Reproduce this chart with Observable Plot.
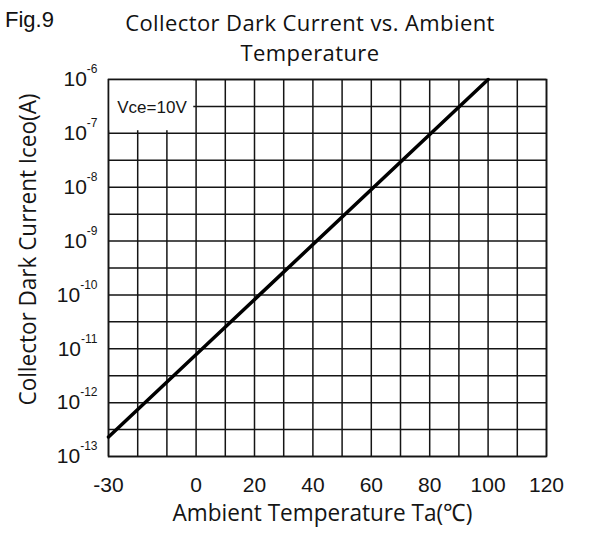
<!DOCTYPE html>
<html>
<head>
<meta charset="utf-8">
<script src="https://cdn.jsdelivr.net/npm/d3@7"></script>
<script src="https://cdn.jsdelivr.net/npm/@observablehq/plot@0.6"></script>
<style>
  html, body { margin: 0; padding: 0; background: #fff; }
  #wrap { width: 592px; height: 541px; position: relative; overflow: hidden; }
  #head { position: relative; height: 60px; }
  #fig { position: absolute; left: 5px; top: 9px; font: 22px "Liberation Sans", Arial, sans-serif; color: #111; line-height: 1; }
  #title { position: absolute; left: 0; top: 7px; width: 620px; text-align: center; font: 22px "Open Sans", sans-serif; letter-spacing: 0.4px; line-height: 30px; color: #111; }
  svg { display: block; }
</style>
</head>
<body>
<div id="wrap">
  <div id="head">
    <div id="fig">Fig.9</div>
    <div id="title">Collector Dark Current vs. Ambient<br>Temperature</div>
  </div>
  <div id="chart"></div>
</div>
<script>
// ---- data ----
const temperature = [-30, 100];                 // Ta (°C)
const iceo = [2.3e-13, 1e-6];                   // Iceo (A)
const xTickValues = [-30, 0, 20, 40, 60, 80, 100, 120];
const xGridValues = [-30, -20, -10, 0, 10, 20, 30, 40, 50, 60, 70, 80, 90, 100, 110, 120];
const yDecadeExponents = [-13, -12, -11, -10, -9, -8, -7, -6];
const yHalfExponents = [-12.5, -11.5, -10.5, -9.5, -8.5, -7.5, -6.5];
const noteText = "Vce=10V";
const xLabel = "Ambient Temperature Ta(℃)";
const yLabel = "Collector Dark Current Iceo(A)";

const curve = temperature.map((t, i) => ({t, i: iceo[i]}));
const yDecades = yDecadeExponents.map(e => Math.pow(10, e));
const yGrid = yDecadeExponents.concat(yHalfExponents).map(e => Math.pow(10, e));
const noteBox = [{x1: -30, x2: -0.8, y1: 1e-6, y2: 1.12e-7}];

const ink = "#151515";
const plot = Plot.plot({
  width: 592,
  height: 481,
  marginTop: 19,
  marginBottom: 85,
  marginLeft: 108,
  marginRight: 46,
  style: {fontFamily: "'Liberation Sans', Arial, sans-serif", background: "#fff", color: ink},
  x: {domain: [-30, 120]},
  y: {type: "log", domain: [1e-13, 1e-6]},
  marks: [
    Plot.ruleX(xGridValues, {stroke: ink, strokeWidth: 1.5}),
    Plot.ruleY(yGrid, {stroke: ink, strokeWidth: 1.5}),
    Plot.rect(noteBox, {x1: "x1", x2: "x2", y1: "y1", y2: "y2", fill: "white"}),
    Plot.text([noteText], {x: -27, y: Math.pow(10, -6.53), text: d => d, textAnchor: "start", fontSize: 17, fill: ink}),
    Plot.frame({stroke: ink, strokeWidth: 1.6}),
    Plot.line(curve, {x: "t", y: "i", stroke: "#000", strokeWidth: 3.5}),
    Plot.axisX({ticks: xTickValues, tickSize: 0, tickPadding: 21, tickFormat: d => String(d), label: null}),
    Plot.axisY({ticks: yDecades, tickSize: 0, tickPadding: 11, tickFormat: d => "10^" + Math.round(Math.log10(d)), label: null}),
    Plot.text([xLabel], {frameAnchor: "bottom", dx: -5, dy: 57.3, text: d => d, textAnchor: "middle", lineAnchor: "middle", fontSize: 24, fontFamily: "'Open Sans', sans-serif", fill: ink}),
    Plot.text([yLabel], {frameAnchor: "left", dx: -80, dy: -18.5, rotate: -90, text: d => d, textAnchor: "middle", lineAnchor: "middle", fontSize: 24, fontFamily: "'Open Sans', sans-serif", fill: ink})
  ]
});
document.getElementById("chart").appendChild(plot);

const svg = d3.select(plot);
// superscript exponents on the y tick labels
svg.selectAll('g[aria-label="y-axis tick label"] text').each(function() {
  const s = d3.select(this);
  const parts = this.textContent.split("^");
  s.text(null);
  s.append("tspan").text(parts[0]);
  s.append("tspan").attr("dy", -13).attr("font-size", "12px").text(parts[1]);
});
svg.selectAll('g[aria-label="x-axis tick label"]').attr("font-size", 21);
svg.selectAll('g[aria-label="y-axis tick label"]').attr("font-size", 21);
// fit the axis titles to the lengths they have in the reference
svg.selectAll("text").each(function() {
  const t = this.textContent;
  if (t === xLabel) d3.select(this).attr("textLength", 300).attr("lengthAdjust", "spacingAndGlyphs");
  if (t === yLabel) d3.select(this).attr("textLength", 312).attr("lengthAdjust", "spacingAndGlyphs");
});
</script>
</body>
</html>
